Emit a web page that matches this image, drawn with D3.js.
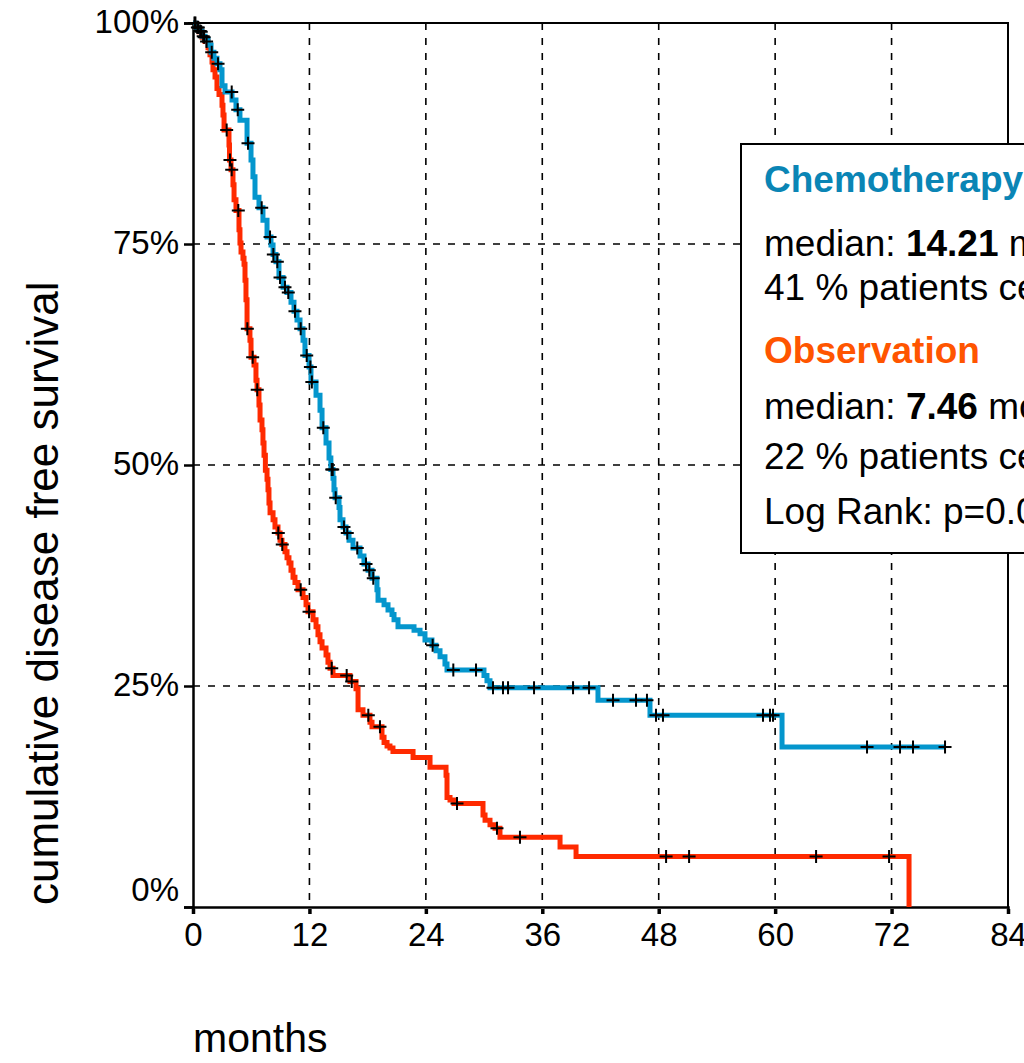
<!DOCTYPE html>
<html lang="en">
<head>
<meta charset="UTF-8">
<title>DFS</title>
<script src="https://cdn.jsdelivr.net/npm/d3@7"></script>
<style>
  body { margin: 0; background: #fff; }
  svg { display: block; font-family: "Liberation Sans", Arial, sans-serif; }
</style>
</head>
<body>
<div id="chart"></div>
<script>
// months ticks and survival ticks
const xTicks = [0, 12, 24, 36, 48, 60, 72, 84];
const yTicks = [0, 25, 50, 75, 100];

// Chemotherapy: [month, survival % after the drop]
const chemoSteps = [[0.31,99.5],[0.62,99.1],[0.93,98.5],[1.24,98.1],[1.55,97.5],[1.86,96.7],[2.16,96.0],[2.47,95.4],
  [2.78,94.7],[2.99,92.9],[3.30,92.2],[4.02,91.3],[4.43,90.2],[4.84,89.0],[5.57,86.4],[5.98,84.5],[6.18,82.6],
  [6.39,80.3],[6.80,79.1],[7.21,77.7],[7.63,75.8],[8.04,74.9],[8.25,73.8],[8.55,73.0],[8.86,71.2],[9.28,70.1],
  [9.69,69.5],[10.10,68.4],[10.41,67.4],[10.72,66.4],[11.03,65.4],[11.34,64.1],[11.54,62.4],[11.96,61.1],
  [12.16,59.4],[12.68,57.9],[13.09,56.2],[13.30,54.2],[13.71,52.5],[14.02,50.8],[14.21,49.5],[14.43,48.5],
  [14.53,47.2],[14.64,46.3],[15.05,45.2],[15.15,43.8],[15.46,43.0],[15.77,42.3],[16.08,41.5],[16.49,40.6],
  [17.21,39.7],[17.62,38.8],[18.04,38.1],[18.45,37.2],[18.96,35.9],[19.07,34.7],[19.69,34.2],[20.10,33.6],
  [20.51,33.1],[20.72,32.5],[21.13,31.7],[22.78,31.3],[23.40,30.9],[23.91,30.2],[24.63,29.6],[25.05,29.0],
  [25.46,28.3],[25.97,27.5],[26.18,26.8],[29.99,26.2],[30.30,25.6],[30.61,24.8],[41.74,23.4],[47.10,21.7],
  [60.71,18.1]];
const chemoEnd = 77.6;
const chemoCensored = [0.15,0.45,0.75,1.05,1.93,2.58,3.99,4.61,5.67,7.08,7.94,8.28,8.69,8.97,9.48,9.82,10.51,
  11.10,11.72,12.10,12.25,13.43,14.30,14.40,14.71,15.56,15.90,16.93,17.83,18.17,18.58,24.70,26.83,29.17,30.92,
  31.95,32.47,35.15,39.17,40.82,43.29,45.66,46.79,47.72,48.44,58.75,59.47,59.78,69.47,72.87,74.21,77.51];

// Observation
const obsSteps = [[0.31,99.5],[0.62,99.0],[0.93,98.4],[1.24,97.9],[1.55,97.2],[1.75,96.4],[1.96,95.6],[2.06,94.7],
  [2.27,93.9],[2.47,92.6],[2.68,91.9],[2.99,90.7],[3.09,89.6],[3.20,87.9],[3.71,86.2],[3.76,84.5],[3.92,83.4],
  [4.12,81.7],[4.23,80.0],[4.43,78.8],[4.74,76.6],[4.84,75.1],[4.95,74.1],[5.15,73.4],[5.26,72.7],[5.36,70.9],
  [5.46,68.7],[5.57,65.4],[5.87,64.1],[5.98,62.2],[6.29,61.3],[6.49,59.6],[6.60,58.5],[6.80,56.8],[6.91,55.1],
  [7.11,54.0],[7.21,52.5],[7.32,51.1],[7.46,49.4],[7.63,48.4],[7.73,47.2],[7.83,45.7],[7.94,44.6],[8.25,43.8],
  [8.45,43.0],[8.76,42.3],[8.97,41.5],[9.17,41.0],[9.48,40.2],[9.69,39.5],[9.89,38.9],[10.10,38.1],[10.31,37.3],
  [10.51,36.7],[10.82,35.9],[11.34,35.0],[11.65,34.2],[11.85,33.4],[12.37,32.5],[12.68,31.7],[12.88,30.8],
  [13.09,30.0],[13.30,29.3],[13.71,28.5],[13.91,27.7],[14.12,27.0],[14.43,26.2],[16.18,25.5],[16.80,24.7],
  [17.01,22.3],[17.52,21.7],[18.24,20.9],[18.45,20.4],[19.48,19.2],[19.69,18.6],[20.00,18.2],[20.30,18.0],
  [20.61,17.6],[22.68,16.9],[24.43,15.8],[26.08,14.9],[26.18,12.4],[26.49,12.1],[26.90,11.7],[29.89,10.4],
  [30.10,9.8],[30.61,9.3],[31.13,8.9],[31.64,7.9],[37.83,6.8],[39.48,5.7],[73.80,0]];
const obsEnd = 73.8;
const obsCensored = [0.25,0.55,0.85,1.15,1.40,3.47,3.81,3.99,4.67,5.60,6.15,6.62,8.79,9.20,11.10,11.96,14.30,
  15.84,16.36,18.07,19.27,27.21,31.33,33.70,48.76,51.13,64.22,71.74];

const width = 1024, height = 1063;
const margin = { top: 23, right: 16, bottom: 156, left: 193 };

const svg = d3.select("#chart").append("svg")
  .attr("width", width)
  .attr("height", height);

const x = d3.scaleLinear().domain([0, 84]).range([margin.left, width - margin.right]);
const y = d3.scaleLinear().domain([0, 100]).range([height - margin.bottom, margin.top]);

// grid
svg.append("g").selectAll("line").data(xTicks.slice(1, -1)).join("line")
  .attr("x1", d => x(d)).attr("x2", d => x(d))
  .attr("y1", y(100)).attr("y2", y(0))
  .attr("stroke", "#000").attr("stroke-width", 1.6).attr("stroke-dasharray", "7,8");
svg.append("g").selectAll("line").data(yTicks.slice(1, -1)).join("line")
  .attr("x1", x(0)).attr("x2", x(84))
  .attr("y1", d => y(d)).attr("y2", d => y(d))
  .attr("stroke", "#000").attr("stroke-width", 1.6).attr("stroke-dasharray", "7,8");

// frame top and right
svg.append("path")
  .attr("d", `M${x(0)},${y(100)}H${x(84)}V${y(0)}`)
  .attr("fill", "none").attr("stroke", "#000").attr("stroke-width", 2);

// axes
const xAxis = svg.append("g")
  .attr("transform", `translate(0,${y(0)})`)
  .call(d3.axisBottom(x).tickValues(xTicks).tickSize(7).tickPadding(9));
const yAxis = svg.append("g")
  .attr("transform", `translate(${x(0)},0)`)
  .call(d3.axisLeft(y).tickValues(yTicks).tickSize(9).tickPadding(5).tickFormat(d => d + "%"));

[xAxis, yAxis].forEach(a => {
  a.select(".domain").attr("stroke", "#000").attr("stroke-width", 2.5);
  a.selectAll(".tick line").attr("stroke", "#000").attr("stroke-width", 3.5);
  a.selectAll("text").attr("font-size", 33).attr("fill", "#000")
    .attr("font-family", "'Liberation Sans', Arial, sans-serif");
});
xAxis.selectAll(".tick line").attr("y1", 2);
yAxis.selectAll(".tick line").attr("stroke-width", 2.5);
yAxis.selectAll(".tick text").attr("dy", "0.3em");
yAxis.selectAll(".tick text").filter(d => d === 0).attr("dy", "-0.2em");

// axis titles
svg.append("text")
  .attr("transform", `translate(58,${y(0) - 2}) rotate(-90)`)
  .attr("font-size", 44).text("cumulative disease free survival");
svg.append("text")
  .attr("x", x(0)).attr("y", 1052)
  .attr("font-size", 41).text("months");

// curves
function stepPoints(steps, end) {
  const pts = [[0, 100]].concat(steps);
  const last = pts[pts.length - 1];
  if (last[0] < end) pts.push([end, last[1]]);
  return pts;
}
function survAt(steps, t) {
  let s = 100;
  for (const d of steps) { if (d[0] <= t) s = d[1]; else break; }
  return s;
}
const line = d3.line().curve(d3.curveStepAfter).x(d => x(d[0])).y(d => y(d[1]));

const groups = [
  { steps: obsSteps, end: obsEnd, cens: obsCensored, color: "#ff2a00" },
  { steps: chemoSteps, end: chemoEnd, cens: chemoCensored, color: "#0496cd" }
];
groups.forEach(g => {
  svg.append("path")
    .attr("d", line(stepPoints(g.steps, g.end)))
    .attr("fill", "none").attr("stroke", g.color).attr("stroke-width", 5);
});
groups.forEach(g => {
  svg.append("g").selectAll("path").data(g.cens).join("path")
    .attr("d", d => {
      const cx = x(d), cy = y(survAt(g.steps, d));
      return `M${cx - 6.5},${cy}H${cx + 6.5}M${cx},${cy - 6.5}V${cy + 6.5}`;
    })
    .attr("stroke", "#000").attr("stroke-width", 2);
});

// legend box (runs past the right edge, as in the original)
const lg = svg.append("g");
lg.append("rect")
  .attr("x", 741).attr("y", 144).attr("width", 400).attr("height", 409)
  .attr("fill", "#fff").attr("stroke", "#000").attr("stroke-width", 2);
const lx = 764, fs = 37;
lg.append("text").attr("x", lx).attr("y", 192).attr("font-size", fs)
  .attr("font-weight", "bold").attr("fill", "#0a85b5").text("Chemotherapy");
const m1 = lg.append("text").attr("x", lx).attr("y", 256).attr("font-size", fs);
m1.append("tspan").text("median: ");
m1.append("tspan").attr("font-weight", "bold").text("14.21");
m1.append("tspan").text(" months");
lg.append("text").attr("x", lx).attr("y", 300).attr("font-size", fs).text("41 % patients censored");
lg.append("text").attr("x", lx).attr("y", 363).attr("font-size", fs)
  .attr("font-weight", "bold").attr("fill", "#ff5500").text("Observation");
const m2 = lg.append("text").attr("x", lx).attr("y", 419).attr("font-size", fs);
m2.append("tspan").text("median: ");
m2.append("tspan").attr("font-weight", "bold").text("7.46");
m2.append("tspan").text(" months");
lg.append("text").attr("x", lx).attr("y", 469).attr("font-size", fs).text("22 % patients censored");
lg.append("text").attr("x", lx).attr("y", 524).attr("font-size", fs).text("Log Rank: p=0.00");
</script>
</body>
</html>
